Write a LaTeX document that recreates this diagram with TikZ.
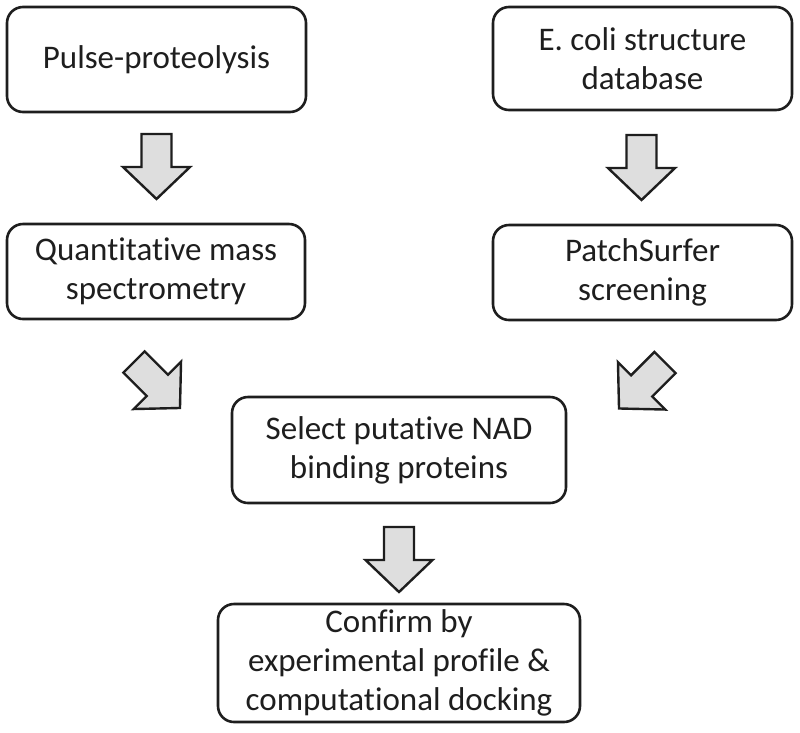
\documentclass[tikz,border=0pt]{standalone}
\usepackage{fontspec}
\setmainfont{Carlito}[Ligatures={NoCommon,NoContextual}]
\newcommand{\tinolig}{t\kern0pt i}
\definecolor{edge}{HTML}{1E1E1E}
\definecolor{arrowfill}{HTML}{DEDEDE}
\begin{document}
\begin{tikzpicture}[x=1pt,y=-1pt,
  box/.style={draw=edge, line width=2.6pt, rounded corners=16pt, fill=white,
    align=center, inner sep=0pt, text=edge,
    font=\fontsize{33}{39}\selectfont},
  blockarrow/.pic={
    \draw[draw=edge, line width=2.4pt, fill=arrowfill, line join=miter]
      (-15,-32.5) -- (15,-32.5) -- (15,0.5) -- (33.5,0.5) -- (0,32.5)
      -- (-33.5,0.5) -- (-15,0.5) -- cycle;
  }]
\useasboundingbox (0,0) rectangle (800,732);
\node[box, minimum width=299pt, minimum height=105pt] (pp) at (156.5,59.5) {Pulse-proteolysis};
\node[box, minimum width=299pt, minimum height=103pt] (ec) at (642.5,58.5) {E. coli structure\\database};
\node[box, minimum width=298pt, minimum height=95pt] (qm) at (156,271.5) {Quan\tinolig{}ta\tinolig{}ve mass\\spectrometry};
\node[box, minimum width=299pt, minimum height=95pt] (ps) at (642.5,272.5) {PatchSurfer\\screening};
\node[box, minimum width=334pt, minimum height=106pt] (sel) at (399,450) {Select puta\tinolig{}ve NAD\\binding proteins};
\node[box, minimum width=362pt, minimum height=118pt] (conf) at (399,663) {Confirm by\\experimental profile \&\\computa\tinolig{}onal docking};
\coordinate (a1) at (156.5,166.5);
\coordinate (a2) at (641.5,167.5);
\coordinate (a3) at (157,385);
\coordinate (a4) at (642,385.5);
\coordinate (a5) at (399,559.5);
\pic at (a1) {blockarrow};
\pic at (a2) {blockarrow};
\pic[rotate=45] at (a3) {blockarrow};
\pic[rotate=-45] at (a4) {blockarrow};
\pic at (a5) {blockarrow};
\end{tikzpicture}
\end{document}
